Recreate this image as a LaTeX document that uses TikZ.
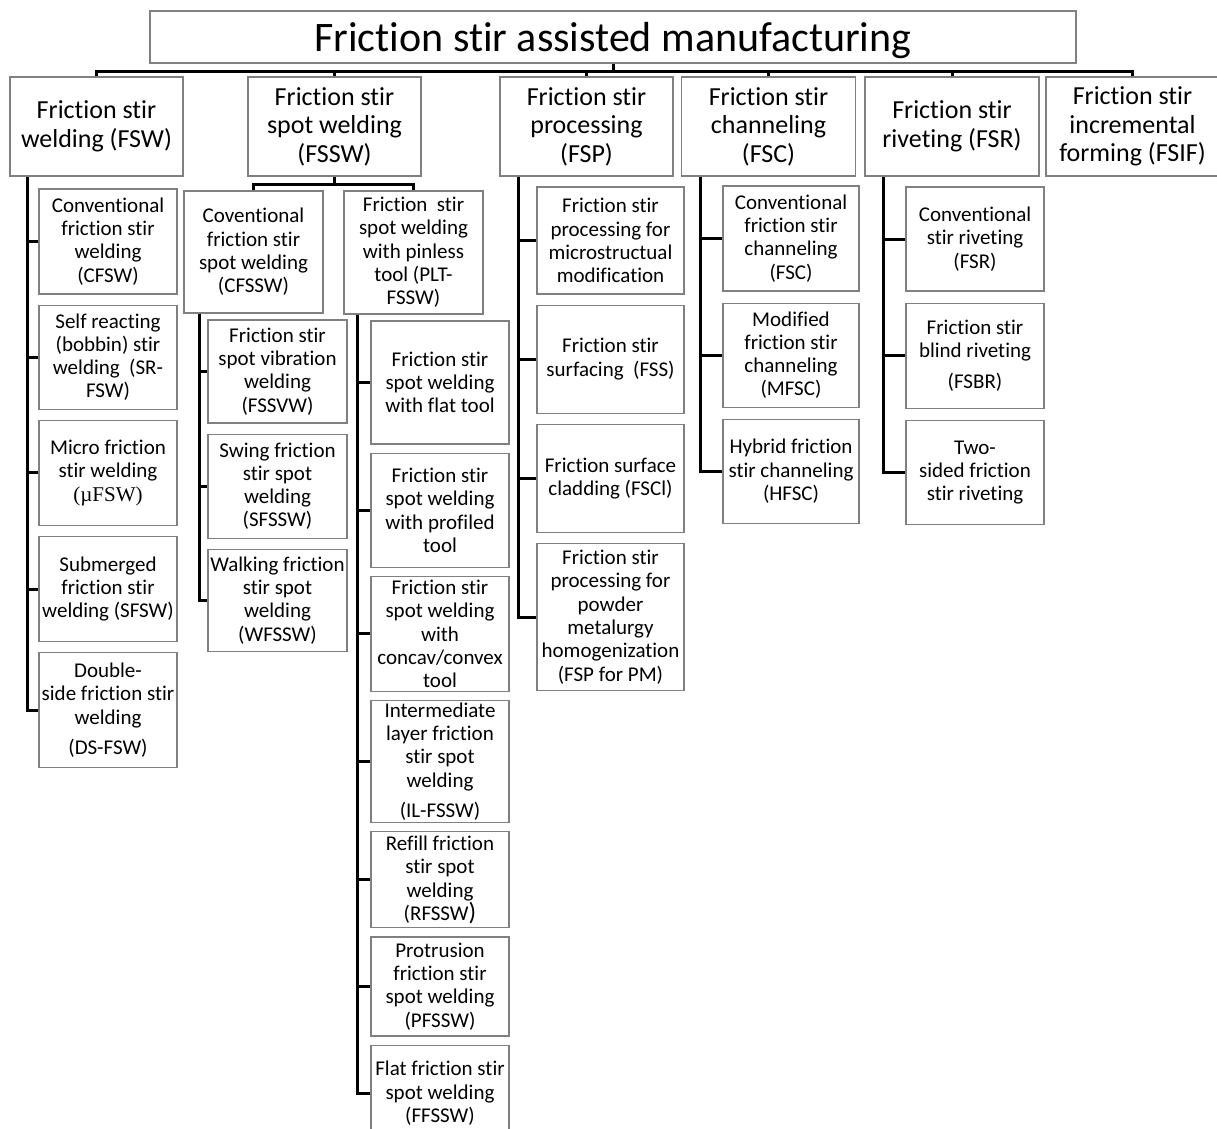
\documentclass[tikz,border=0pt]{standalone}
\usepackage{fontspec}
\setmainfont{Carlito}[Ligatures=NoCommon]
\newfontfamily\serifmu{Liberation Serif}
\usetikzlibrary{positioning}
\definecolor{boxgray}{RGB}{128,128,128}

\begin{document}
\begin{tikzpicture}[
  x=1pt, y=-1pt,
  node distance=10pt,
  every node/.style={font=\fontsize{21}{23.3}\selectfont},
  root/.style={rectangle,draw=boxgray,line width=1.2pt,minimum width=926pt,minimum height=52pt,inner sep=0pt,text depth=0pt,font=\fontsize{42}{48}\selectfont},
  cat/.style={rectangle,draw=boxgray,line width=1.2pt,minimum width=173pt,minimum height=99pt,align=center,inner sep=0pt,font=\fontsize{26}{28.5}\selectfont},
  sub/.style={rectangle,draw=boxgray,line width=1.2pt,minimum width=138pt,align=center,inner sep=0pt},
  conn/.style={line width=3pt}
]
\useasboundingbox (0,0) rectangle (1217,1128);

\node[root] (root) at (613,37) {Friction stir assisted manufacturing};

% main branches
\node[cat] (fsw) at (96.5,126.5) {Friction stir\\welding (FSW)};
\node[cat] (fssw) at (334.5,126.5) {Friction stir\\spot welding\\(FSSW)};
\node[cat] (fsp) at (586.5,126.5) {Friction stir\\processing\\(FSP)};
\node[cat,minimum width=174pt] (fsc) at (768.5,126.5) {Friction stir\\channeling\\(FSC)};
\node[cat,minimum width=174pt] (fsr) at (952,126.5) {Friction stir\\riveting (FSR)};
\node[cat] (fsif) at (1132.5,126.5) {Friction stir\\incremental\\forming (FSIF)};

% FSW variants
\node[sub,minimum height=105pt] (cfsw) at (108,241.5) {Conventional\\friction stir\\welding\\(CFSW)};
\node[sub,minimum height=104pt,below=of cfsw] (srfsw) {Self reacting\\(bobbin) stir\\welding~~(SR-\\FSW)};
\node[sub,minimum height=105pt,below=of srfsw] (mufsw) {Micro friction\\stir welding\\{\serifmu (µFSW)}};
\node[sub,minimum height=105pt,below=of mufsw] (sfsw) {Submerged\\friction stir\\welding (SFSW)};
\node[sub,minimum height=115pt,below=of sfsw] (dsfsw) {Double-\\side friction stir\\welding\\[7pt](DS-FSW)};

% FSSW variants
\node[sub,minimum width=139pt,minimum height=122pt] (cfssw) at (253.5,252) {Coventional\\friction stir\\spot welding\\(CFSSW)};
\node[sub,minimum width=139pt,minimum height=123pt] (plt) at (413.5,252.5) {Friction~~stir\\spot welding\\with pinless\\tool (PLT-\\FSSW)};

\node[sub,minimum width=139pt,minimum height=103pt] (fssvw) at (277.5,371.5) {Friction stir\\spot vibration\\welding\\(FSSVW)};
\node[sub,minimum width=139pt,minimum height=104pt,below=of fssvw] (sfssw) {Swing friction\\stir spot\\welding\\(SFSSW)};
\node[sub,minimum width=139pt,minimum height=102pt,below=of sfssw] (wfssw) {Walking friction\\stir spot\\welding\\(WFSSW)};

\node[sub,minimum height=123pt] (flat) at (440,382.5) {Friction stir\\spot welding\\with flat tool};
\node[sub,minimum height=114pt,below=8pt of flat] (prof) {Friction stir\\spot welding\\with profiled\\tool};
\node[sub,minimum height=115pt,below=8pt of prof] (conc) {Friction stir\\spot welding\\with\\concav/convex\\tool};
\node[sub,minimum height=122pt,below=8pt of conc] (ilfssw) {Intermediate\\layer friction\\stir spot\\welding\\[7pt](IL-FSSW)};
\node[sub,minimum height=96pt,below=8pt of ilfssw] (rfssw) {Refill friction\\stir spot\\welding\\(RFSSW{\fontsize{25}{23.3}\selectfont)}};
\node[sub,minimum height=99pt,below=8pt of rfssw] (pfssw) {Protrusion\\friction stir\\spot welding\\(PFSSW)};
\node[sub,minimum height=96pt,below=8pt of pfssw] (ffssw) {Flat friction stir\\spot welding\\(FFSSW)};

% FSP variants
\node[sub,minimum width=147pt,minimum height=107pt] (micro) at (610.5,240.5) {Friction stir\\processing for\\microstructual\\modification};
\node[sub,minimum width=147pt,minimum height=108pt,below=of micro] (fss) {Friction stir\\surfacing~~(FSS)};
\node[sub,minimum width=147pt,minimum height=108pt,below=of fss] (fscl) {Friction surface\\cladding (FSCl)};
\node[sub,minimum width=147pt,minimum height=147pt,below=of fscl] (fsppm) {Friction stir\\processing for\\powder\\metalurgy\\homogenization\\(FSP for PM)};

% FSC variants
\node[sub,minimum width=136pt,minimum height=105pt] (cfsc) at (791,238.5) {Conventional\\friction stir\\channeling\\(FSC)};
\node[sub,minimum width=136pt,minimum height=104pt,below=11pt of cfsc] (mfsc) {Modified\\friction stir\\channeling\\(MFSC)};
\node[sub,minimum width=136pt,minimum height=104pt,below=11pt of mfsc] (hfsc) {Hybrid friction\\stir channeling\\(HFSC)};

% FSR variants
\node[sub,minimum height=104pt] (cfsr) at (975,239) {Conventional\\stir riveting\\(FSR)};
\node[sub,minimum height=105pt,below=11pt of cfsr] (fsbr) {Friction stir\\blind riveting\\[7pt](FSBR)};
\node[sub,minimum height=104pt,below=11pt of fsbr] (tsfsr) {Two-\\sided friction\\stir riveting};

% top bus
\path (fsw.north) ++(0,-5) coordinate (bus);
\draw[conn] (root.south) -- (root.south |- bus);
\draw[conn] (fsw.north) -- (bus) -| (fsif.north);
\foreach \n in {fssw,fsp,fsc,fsr}
  \draw[conn] (\n.north) -- (\n.north |- bus);

% FSSW split
\draw[conn] (fssw.south) -- ++(0,8) coordinate (fsswbus);
\draw[conn] (cfssw.north) |- (fsswbus) -| (plt.north);

% spines
\coordinate (fswsp) at (27,0);
\draw[conn] (fswsp |- fsw.south) |- (dsfsw.west);
\foreach \n in {cfsw,srfsw,mufsw,sfsw}
  \draw[conn] (fswsp |- \n.west) -- (\n.west);

\coordinate (cfsswsp) at (199,0);
\draw[conn] (cfsswsp |- cfssw.south) |- (wfssw.west);
\foreach \n in {fssvw,sfssw}
  \draw[conn] (cfsswsp |- \n.west) -- (\n.west);

\coordinate (pltsp) at (357.5,0);
\draw[conn] (pltsp |- plt.south) |- (ffssw.west);
\foreach \n in {flat,prof,conc,ilfssw,rfssw,pfssw}
  \draw[conn] (pltsp |- \n.west) -- (\n.west);

\coordinate (fspsp) at (518,0);
\draw[conn] (fspsp |- fsp.south) |- (fsppm.west);
\foreach \n in {micro,fss,fscl}
  \draw[conn] (fspsp |- \n.west) -- (\n.west);

\coordinate (fscsp) at (700,0);
\draw[conn] (fscsp |- fsc.south) |- (hfsc.west);
\foreach \n in {cfsc,mfsc}
  \draw[conn] (fscsp |- \n.west) -- (\n.west);

\coordinate (fsrsp) at (883,0);
\draw[conn] (fsrsp |- fsr.south) |- (tsfsr.west);
\foreach \n in {cfsr,fsbr}
  \draw[conn] (fsrsp |- \n.west) -- (\n.west);
\end{tikzpicture}
\end{document}
